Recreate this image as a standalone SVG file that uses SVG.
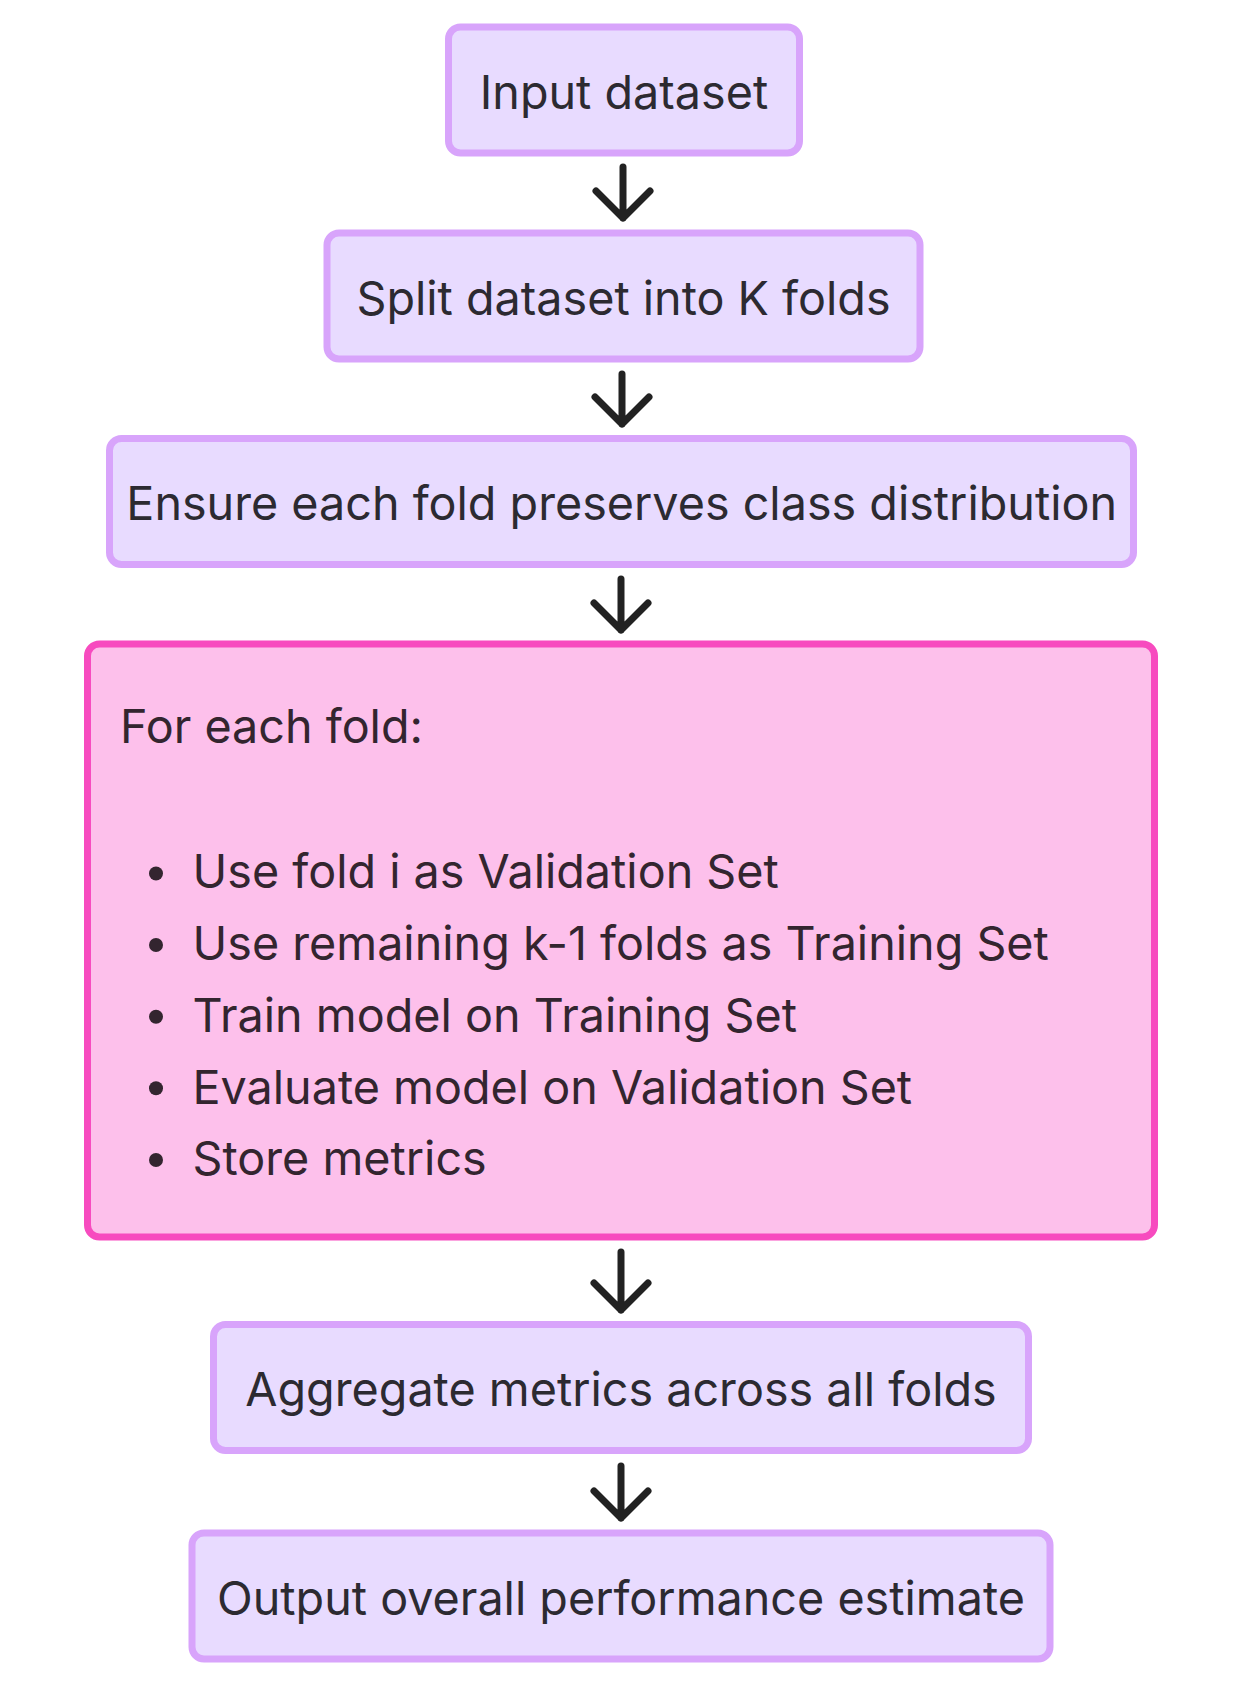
<svg xmlns="http://www.w3.org/2000/svg" width="1243" height="1686" viewBox="0 0 1243 1686">
<style>
.box{fill:#e8dbff;stroke:#d8a4fb;stroke-width:7}
.pink{fill:#fdc0eb;stroke:#f74bbf;stroke-width:7}
.t{font-family:Inter,"Noto Sans",sans-serif;font-size:46.7px;fill:#2c2a31}
.c{text-anchor:middle}
.pt{font-family:Inter,"Noto Sans",sans-serif;font-size:46.7px;fill:#33252f}
.arr{fill:none;stroke:#222222;stroke-width:7;stroke-linecap:round;stroke-linejoin:round}
</style>
<rect width="1243" height="1686" fill="#ffffff"/>
<g id="connectors">
<path class="arr" d="M623 167V218M596 191L623 218L650 191"/>
<path class="arr" d="M622 374V424M595 397L622 424L649 397"/>
<path class="arr" d="M621 579V630M594 603L621 630L648 603"/>
<path class="arr" d="M621 1252V1310M594 1283L621 1310L648 1283"/>
<path class="arr" d="M621 1466V1518M594 1491L621 1518L648 1491"/>
</g>
<g id="n1">
<rect class="box" x="448.5" y="27" width="351" height="126" rx="12"/>
<text class="t c" x="624" y="109">Input dataset</text>
</g>
<g id="n2">
<rect class="box" x="327" y="233" width="593" height="126" rx="12"/>
<text class="t c" x="623.5" y="315">Split dataset into K folds</text>
</g>
<g id="n3">
<rect class="box" x="109.5" y="438.5" width="1024" height="126" rx="12"/>
<text class="t c" x="621.7" y="520">Ensure each fold preserves class distribution</text>
</g>
<g id="n4">
<rect class="pink" x="87.5" y="644" width="1067" height="593" rx="12"/>
<text class="pt" x="120" y="743">For each fold:</text>
<g fill="#33252f">
<circle cx="156" cy="873.5" r="7"/>
<circle cx="156" cy="945" r="7"/>
<circle cx="156" cy="1016.7" r="7"/>
<circle cx="156" cy="1088.3" r="7"/>
<circle cx="156" cy="1160" r="7"/>
</g>
<text class="pt" x="192.5" y="888">Use fold i as Validation Set</text>
<text class="pt" x="192.5" y="960">Use remaining k-1 folds as Training Set</text>
<text class="pt" x="192.5" y="1031.7">Train model on Training Set</text>
<text class="pt" x="192.5" y="1104">Evaluate model on Validation Set</text>
<text class="pt" x="192.5" y="1175">Store metrics</text>
</g>
<g id="n5">
<rect class="box" x="213.5" y="1324.5" width="815" height="126" rx="12"/>
<text class="t c" x="621" y="1406">Aggregate metrics across all folds</text>
</g>
<g id="n6">
<rect class="box" x="192" y="1533" width="858" height="126" rx="12"/>
<text class="t c" x="621" y="1615">Output overall performance estimate</text>
</g>
</svg>
